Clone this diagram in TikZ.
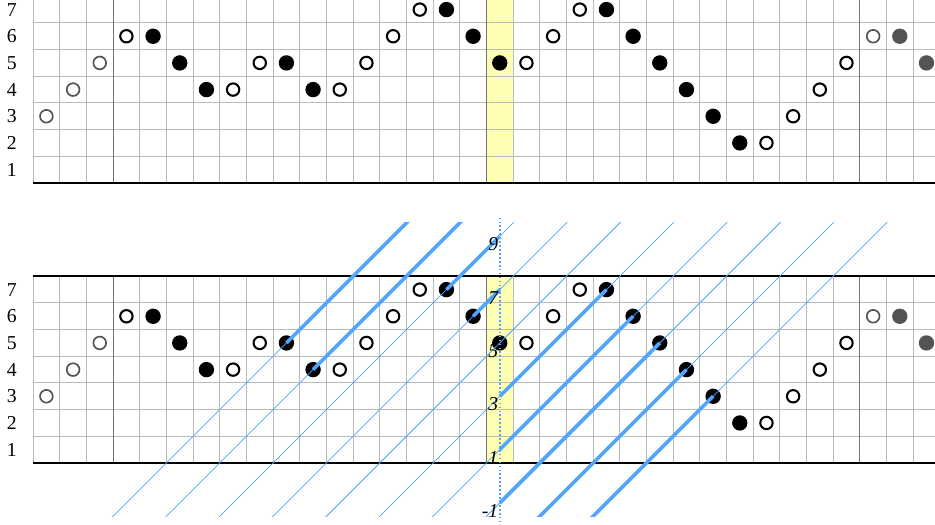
\documentclass[tikz,border=0pt]{standalone}
\usepackage{fontspec}
\setmainfont{Liberation Serif}
\definecolor{rayblue}{RGB}{80,165,255}
\definecolor{hlyellow}{RGB}{255,255,180}

\begin{document}
\fontsize{10.5}{12.6}\selectfont
\begin{tikzpicture}[x=0.5cm,y=0.5cm,
  cell/.style={draw=black!27,line width=0.5pt},
  bar/.style={draw=black!55,line width=0.6pt},
  edge/.style={draw=black,line width=1.1pt},
  dot/.style={circle,inner sep=0pt,minimum size=8.2pt},
  hollow/.style={dot,draw=black,line width=1.1pt,fill=white,minimum size=6.6pt},
  filled/.style={dot,fill=black},
  ghollow/.style={dot,draw=black!67,line width=0.9pt,fill=white,minimum size=6.8pt},
  gfilled/.style={dot,fill=black!67},
  ray/.style={rayblue,line width=1.9pt},
  thinray/.style={rayblue,line width=0.4pt},
  axis/.style={rayblue,line width=0.8pt,dash pattern=on 0.9pt off 1.2pt},
  klabel/.style={anchor=north east,inner sep=0.6pt,font=\itshape}]
\useasboundingbox (-1.24,-2.29) rectangle (33.82,17.36);
\clip (-1.24,-2.29) rectangle (33.82,17.36);

\foreach \yo/\p in {0/b,10.5/t} {
  \fill[hlyellow] (17,\yo) rectangle (18,\yo+7);
  \foreach \x in {0,...,34} \draw[cell] (\x,\yo) -- (\x,\yo+7);
  \foreach \y in {1,...,6} \draw[cell] (0,\yo+\y) -- (35,\yo+\y);
  \foreach \x in {3,17,31} \draw[bar] (\x,\yo) -- (\x,\yo+7);
  \draw[edge] (0,\yo) -- (35,\yo) (0,\yo+7) -- (35,\yo+7);
  \foreach \r in {1,...,7} \node (row\p\r) at (-0.8,\yo+\r-0.5) {\r};
  \foreach \c/\r/\s in {0/3/ghollow,1/4/ghollow,2/5/ghollow,3/6/hollow,4/6/filled,
      5/5/filled,6/4/filled,7/4/hollow,8/5/hollow,9/5/filled,10/4/filled,11/4/hollow,
      12/5/hollow,13/6/hollow,14/7/hollow,15/7/filled,16/6/filled,17/5/filled,
      18/5/hollow,19/6/hollow,20/7/hollow,21/7/filled,22/6/filled,23/5/filled,
      24/4/filled,25/3/filled,26/2/filled,27/2/hollow,28/3/hollow,29/4/hollow,
      30/5/hollow,31/6/ghollow,32/6/gfilled,33/5/gfilled}
    \node[\s] (\p\c) at (\c+0.5,\yo+\r-0.5) {};
}

\draw[axis] (17.5,9.2) coordinate (top) -- (17.5,-2.4) coordinate (bot);
\foreach \k in {-5,-3,...,13} \coordinate (p\k) at (17.5,\k-0.5);

\begin{scope}
\clip (-2,-2) rectangle (35,9);
\foreach \k in {-5,-3,...,13} \draw[thinray] (p\k) ++(-15,-15) -- ++(30,30);
\foreach \c/\k in {9/13,10/11,15/9,16/7,21/3,22/1,23/-1,24/-3,25/-5}
  \draw[ray] (b\c.center) -- (p\k);
\end{scope}

\foreach \k in {-1,1,...,9} \node[klabel] (n\k) at (p\k) {\k};
\end{tikzpicture}
\end{document}
